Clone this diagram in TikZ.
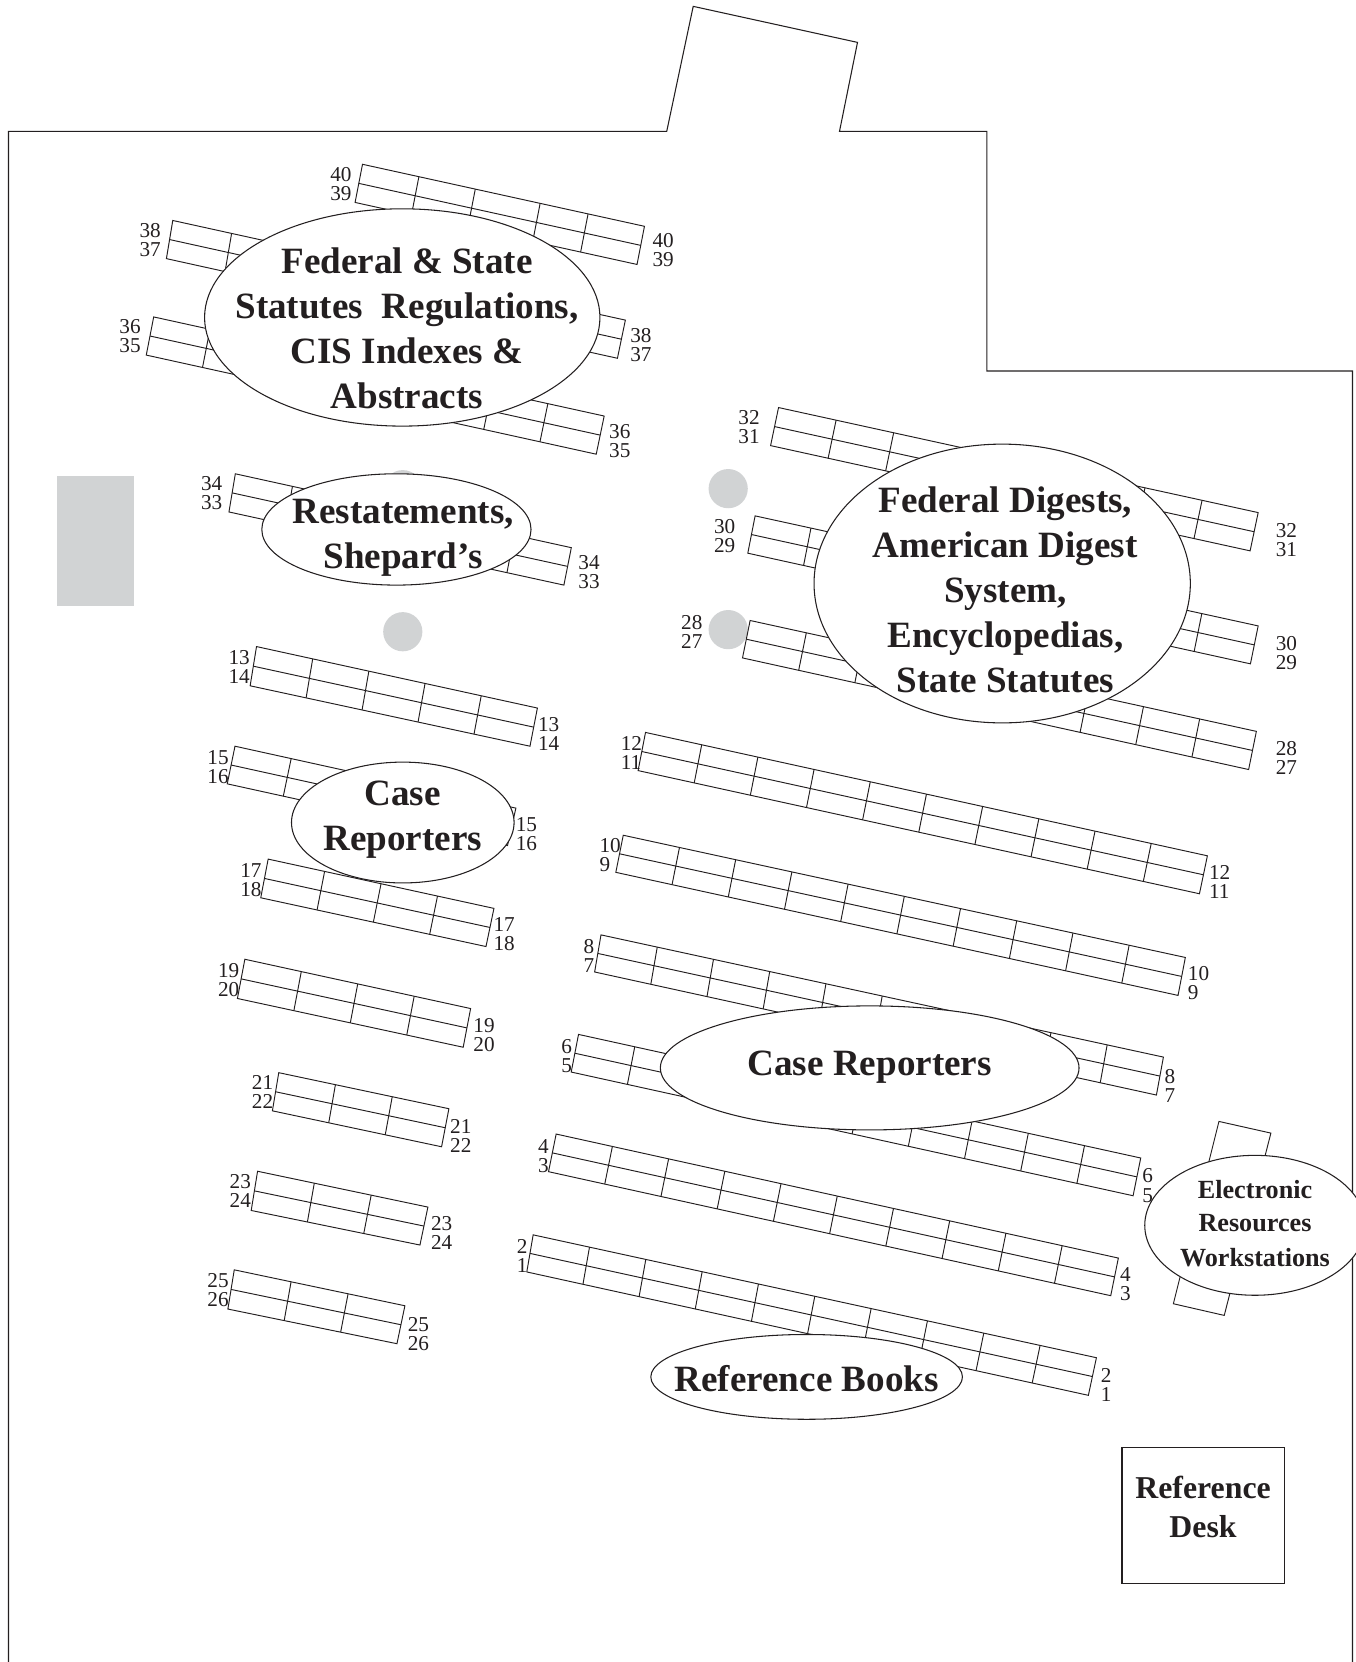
\documentclass[tikz,border=0pt]{standalone}
\usepackage{fontspec}
\setmainfont{Liberation Serif}
\usepackage{xcolor}
\usetikzlibrary{calc,shapes.geometric}
\definecolor{inkblack}{HTML}{231F20}
\definecolor{pillargray}{HTML}{D1D3D4}
\tikzset{
  wallline/.style={draw=inkblack,line width=1pt},
  shelfline/.style={draw=inkblack,line width=0.9pt},
  pillar/.style={circle,fill=pillargray,minimum size=37pt,inner sep=0pt},
  shelfnum/.style={anchor=west,align=left,inner sep=0pt,text=inkblack,font=\fontsize{20}{18}\selectfont},
  areaname/.style={ellipse,draw=inkblack,fill=white,line width=1pt,inner sep=0pt,outer sep=0pt},
  areatext/.style={align=center,inner sep=0pt,text=inkblack,font=\fontsize{35}{42.5}\selectfont\bfseries},
}
% corners: top left, top right, bottom left, bottom right; then divider positions
\newcommand{\shelfrow}[5]{
  \draw[shelfline] #1 -- #2 -- #4 -- #3 -- cycle;
  \draw[shelfline] ($#1!.5!#3$) -- ($#2!.5!#4$);
  \foreach \f in {#5}
    \draw[shelfline] ($#1!\f!#2$) -- ($#3!\f!#4$);
}
\newcommand{\areaoval}[6]{
  \node[areaname,minimum width=#3pt,minimum height=#4pt] (#1) at #2 {};
  \node[areatext] (#1text) at ($(#1)+#5$) {#6};
}
\begin{document}
\begin{tikzpicture}[x=1pt,y=-1pt]
  \useasboundingbox (0,0) rectangle (1279,1568);
  % walls
  \draw[wallline] (8,1568) -- (8,124) -- (629,124) -- (654,6) -- (809,40) -- (792,124)
    -- (931,124) -- (931,350) -- (1276,350) -- (1276,1568);
  % pillars
  \fill[pillargray] (54,449) rectangle (126,572);
  \node[pillar] (pillarA) at (380,462) {};
  \node[pillar] (pillarB) at (380,596) {};
  \node[pillar] (pillarC) at (687,461) {};
  \node[pillar] (pillarD) at (687,594) {};
  % left block
  \shelfrow{(342,155)}{(608,213.5)}{(335,191)}{(601,249.5)}{.2,.4,.63,.8}
  \shelfrow{(163,208)}{(590,302)}{(157,244)}{(582.5,338)}{.13,.25,.38,.5,.63,.75,.88}
  \shelfrow{(145,299)}{(570,392.5)}{(138,335)}{(562.5,428.5)}{.125,.25,.375,.5,.625,.75,.875}
  \shelfrow{(222,447)}{(539,516.7)}{(216,483)}{(532,552)}{.17,.33,.5,.67,.83}
  \shelfrow{(242,610)}{(507,668)}{(236,647)}{(500,704)}{.2,.4,.6,.8}
  \shelfrow{(221.7,704)}{(486.7,762.4)}{(214.4,739.5)}{(478.8,797.7)}{.2,.4,.6,.8}
  \shelfrow{(253,810.5)}{(466,857)}{(246,847)}{(458.5,893)}{.25,.5,.75}
  \shelfrow{(231,905)}{(444,951.5)}{(224,942)}{(437,988)}{.25,.5,.75}
  \shelfrow{(263,1012)}{(423.5,1046)}{(257,1048)}{(416.6,1081.9)}{.333,.667}
  \shelfrow{(243,1105)}{(403.7,1138.8)}{(237,1142)}{(396.2,1174.6)}{.333,.667}
  \shelfrow{(221,1198)}{(382,1231.9)}{(215,1235)}{(374.5,1267.7)}{.333,.667}
  % right block
  \shelfrow{(734.5,384.5)}{(1187,483.6)}{(727,420.4)}{(1179.4,519.7)}{.12,.24,.764,.883}
  \shelfrow{(712.4,486.7)}{(1187,590.5)}{(705.5,521.9)}{(1179.7,626.3)}{.111,.222,.333,.444,.556,.667,.778,.888}
  \shelfrow{(707.7,585.4)}{(1185.3,690)}{(700.5,620.7)}{(1178,726)}{.111,.222,.333,.444,.556,.667,.777,.888}
  \shelfrow{(609,691)}{(1139.1,807.4)}{(602,727)}{(1131.6,843.2)}{.1,.2,.3,.4,.5,.6,.7,.8,.9}
  \shelfrow{(588,788)}{(1118.3,903.3)}{(581,823)}{(1111.4,939.1)}{.1,.2,.3,.4,.5,.6,.7,.8,.9}
  \shelfrow{(567,882)}{(1097.6,997.3)}{(561,917)}{(1091,1033.1)}{.1,.2,.3,.4,.5,.6,.7,.8,.9}
  \shelfrow{(545.8,975.9)}{(1076.2,1092.5)}{(538.9,1011.4)}{(1069,1128.1)}{.1,.2,.3,.4,.5,.6,.7,.8,.9}
  \shelfrow{(524.7,1069.9)}{(1055.1,1186.9)}{(517.5,1105.4)}{(1047.9,1222.4)}{.1,.2,.3,.4,.5,.6,.7,.8,.9}
  \shelfrow{(503,1165)}{(1034.4,1280.9)}{(497,1200)}{(1026.8,1316.4)}{.1,.2,.3,.4,.5,.6,.7,.8,.9}
  \draw[shelfline] (1150,1058) -- (1199,1069) -- (1155,1241) -- (1107,1230) -- cycle;
  % row numbers
  \foreach \nx/\ny/\ntop/\nbot in {
    311.5/173.5/40/39, 615.5/235.5/40/39, 131.5/226.5/38/37, 594.5/325.5/38/37,
    112.5/317.5/36/35, 574.5/416.5/36/35, 189.5/465.5/34/33, 545.5/539.5/34/33,
    215.5/629.5/13/14, 507.5/692.5/13/14, 195.5/723.5/15/16, 486.5/786.5/15/16,
    226.5/830.5/17/18, 465.5/881.5/17/18, 205.5/924.5/19/20, 446.5/976.5/19/20,
    237.5/1030.5/21/22, 424.5/1071.5/21/22, 216.5/1123.5/23/24, 406.5/1163.5/23/24,
    195.5/1217.5/25/26, 384.5/1258.5/25/26,
    696.5/402.5/32/31, 1203.5/509.5/32/31, 673.5/505.5/30/29, 1203.5/616.5/30/29,
    642.5/596.5/28/27, 1203.5/715.5/28/27, 585.5/710.5/12/11, 1140.5/832.5/12/11,
    565.5/806.5/10/9, 1120.5/927.5/10/9, 550.5/901.5/8/7, 1098.5/1024.5/8/7,
    529.5/996.5/6/5, 1077.5/1118.5/6/5, 507.5/1090.5/4/3, 1056.5/1211.5/4/3,
    487.5/1184.5/2/1, 1038.5/1306.5/2/1}
    \node[shelfnum] (num\ntop at \nx) at (\nx,\ny) {\ntop\\\nbot};
  % subject ovals
  \areaoval{federal}{(379.5,299.5)}{373}{205}{(4.5,10.5)}{Federal \& State\\Statutes\ \ Regulations,\\CIS Indexes \&\\Abstracts}
  \areaoval{restate}{(374,499.5)}{254}{105}{(6.5,7.5)}{Restatements,\\Shepard’s}
  \areaoval{digests}{(945.5,550.5)}{355}{263}{(3,6)}{Federal Digests,\\American Digest\\System,\\Encyclopedias,\\State Statutes}
  \areaoval{casesmall}{(380,776)}{210}{114}{(0,-3)}{Case\\Reporters}
  \areaoval{casebig}{(820.5,1007.5)}{395}{117}{(0,-1)}{Case Reporters}
  \areaoval{refbooks}{(761,1299)}{294}{80}{(0,2)}{Reference Books}
  \node[areaname,minimum width=208pt,minimum height=132pt] (eres) at (1184,1156) {};
  \node[areatext,font=\fontsize{24.7}{32}\selectfont\bfseries] (erestext) at (1184,1154.5) {Electronic\\[-1pt]Resources\\[1pt]Workstations};
  % desk
  \node[draw=inkblack,line width=1pt,minimum width=153pt,minimum height=128pt,inner sep=0pt] (desk) at (1135,1430) {};
  \node[areatext,font=\fontsize{30}{36.5}\selectfont\bfseries] (desktext) at (1135,1422) {Reference\\Desk};
\end{tikzpicture}
\end{document}
